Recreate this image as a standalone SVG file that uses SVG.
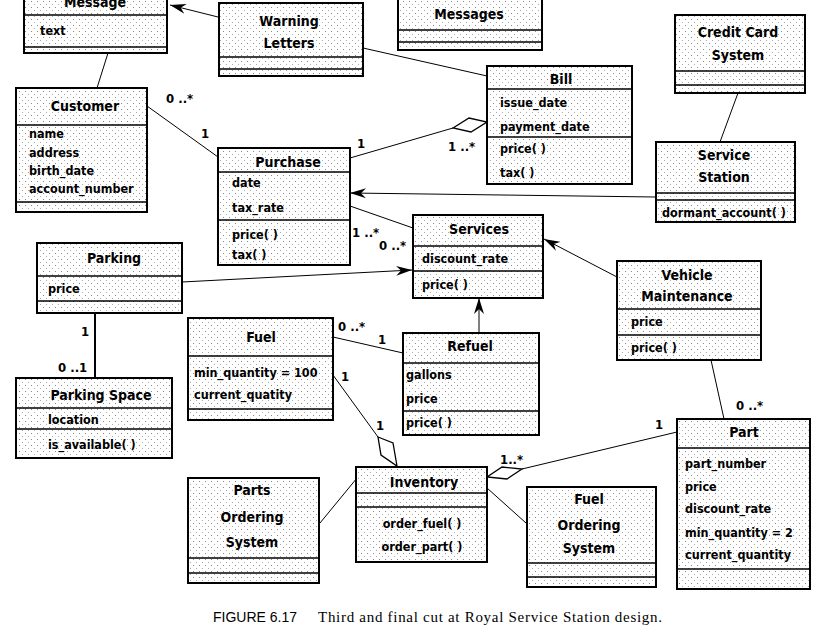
<svg xmlns="http://www.w3.org/2000/svg" width="818" height="636" viewBox="0 0 818 636">
<style>
.box{fill:url(#stip);stroke:#000;stroke-width:2}
.dv{stroke:#000;stroke-width:1.6}
.t{font-family:"DejaVu Sans Condensed","DejaVu Sans",sans-serif;font-stretch:condensed;font-weight:bold;font-size:14px;text-anchor:middle;fill:#000}
.a{font-family:"DejaVu Sans Condensed","DejaVu Sans",sans-serif;font-stretch:condensed;font-weight:bold;font-size:12.5px;fill:#000}
.am{text-anchor:middle}
.l{font-family:"DejaVu Sans Condensed","DejaVu Sans",sans-serif;font-stretch:condensed;font-weight:bold;font-size:13px;fill:#000}
.c{stroke:#000;stroke-width:1;fill:none}
.dm{fill:#fff;stroke:#000;stroke-width:1.3}
.cs{font-family:"Liberation Sans",Arial,sans-serif;font-size:14px;fill:#000}
.cr{font-family:"Liberation Serif","Times New Roman",serif;font-size:15px;fill:#000}
</style>
<defs>
<pattern id="stip" width="6" height="6" patternUnits="userSpaceOnUse">
<rect width="6" height="6" fill="#fff"/>
<rect x="1" y="1" width="1" height="1" fill="#888"/>
<rect x="4" y="4" width="1" height="1" fill="#aaa"/>
</pattern>
<marker id="arr" viewBox="0 0 16 10" refX="16" refY="5" markerWidth="16" markerHeight="10" markerUnits="userSpaceOnUse" orient="auto">
<path d="M0,0 L16,5 L0,10 L5,5 Z" fill="#000"/>
</marker>
</defs>
<rect width="818" height="636" fill="#fff"/>

<g id="connectors">
<line class="c" x1="218" y1="17" x2="170" y2="5" marker-end="url(#arr)"/>
<line class="c" x1="363" y1="48" x2="487" y2="76"/>
<line class="c" x1="108" y1="53" x2="97" y2="88"/>
<line class="c" x1="147" y1="106" x2="218" y2="157"/>
<text class="l" x="166" y="103">0 ..*</text>
<text class="l" x="201" y="138">1</text>
<line class="c" x1="350" y1="158" x2="453" y2="128"/>
<polygon class="dm" points="453,128 469,118 487,122 471,132"/>
<text class="l" x="357" y="148">1</text>
<text class="l" x="448" y="151">1 ..*</text>
<line class="c" x1="655" y1="197" x2="350" y2="193" marker-end="url(#arr)"/>
<line class="c" x1="738" y1="93" x2="720" y2="142"/>
<line class="c" x1="350" y1="206" x2="413" y2="228"/>
<text class="l" x="352" y="237">1 ..*</text>
<text class="l" x="379" y="250">0 ..*</text>
<line class="c" x1="182" y1="282" x2="412" y2="270" marker-end="url(#arr)"/>
<line x1="95" y1="313" x2="95" y2="378" stroke="#000" stroke-width="2"/>
<text class="l" x="81" y="336">1</text>
<text class="l" x="58" y="372">0 ..1</text>
<line class="c" x1="333" y1="337" x2="403" y2="353"/>
<text class="l" x="338" y="331">0 ..*</text>
<text class="l" x="378" y="344">1</text>
<line class="c" x1="333" y1="375" x2="378" y2="437"/>
<polygon class="dm" points="378,437 393,443 397,466 381,455"/>
<text class="l" x="341" y="381">1</text>
<text class="l" x="376" y="430">1</text>
<line class="c" x1="479" y1="333" x2="479" y2="298" marker-end="url(#arr)"/>
<line class="c" x1="617" y1="277" x2="544" y2="239" marker-end="url(#arr)"/>
<line class="c" x1="711" y1="360" x2="724" y2="419"/>
<text class="l" x="736" y="410">0 ..*</text>
<line class="c" x1="677" y1="432" x2="522" y2="469"/>
<polygon class="dm" points="522,469 507,479 487,477 502,467"/>
<text class="l" x="655" y="429">1</text>
<text class="l" x="500" y="464">1..*</text>
<line class="c" x1="320" y1="523" x2="357" y2="478"/>
<line class="c" x1="487" y1="488" x2="526" y2="523"/>
</g>

<g id="message">
<rect class="box" x="24" y="-10" width="143" height="63"/>
<line class="dv" x1="24" y1="15" x2="167" y2="15"/>
<line class="dv" x1="24" y1="47" x2="167" y2="47"/>
<text class="t" x="95" y="7">Message</text>
<text class="a" x="40" y="35">text</text>
</g>

<g id="warning-letters">
<rect class="box" x="219" y="3" width="144" height="73"/>
<line class="dv" x1="219" y1="57" x2="363" y2="57"/>
<line class="dv" x1="219" y1="69" x2="363" y2="69"/>
<text class="t" x="289" y="26">Warning</text>
<text class="t" x="289" y="48">Letters</text>
</g>

<g id="messages">
<rect class="box" x="398" y="-10" width="144" height="60"/>
<line class="dv" x1="398" y1="30" x2="542" y2="30"/>
<line class="dv" x1="398" y1="42" x2="542" y2="42"/>
<text class="t" x="469" y="19">Messages</text>
</g>

<g id="bill">
<rect class="box" x="487" y="66" width="145" height="118"/>
<line class="dv" x1="487" y1="89" x2="632" y2="89"/>
<line class="dv" x1="487" y1="137" x2="632" y2="137"/>
<text class="t" x="561" y="84">Bill</text>
<text class="a" x="500" y="107">issue_date</text>
<text class="a" x="500" y="131">payment_date</text>
<text class="a" x="500" y="153">price( )</text>
<text class="a" x="500" y="177">tax( )</text>
</g>

<g id="credit-card-system">
<rect class="box" x="675" y="15" width="130" height="78"/>
<line class="dv" x1="675" y1="71" x2="805" y2="71"/>
<line class="dv" x1="675" y1="85" x2="805" y2="85"/>
<text class="t" x="738" y="37">Credit Card</text>
<text class="t" x="738" y="60">System</text>
</g>

<g id="service-station">
<rect class="box" x="656" y="142" width="139" height="80"/>
<line class="dv" x1="656" y1="193" x2="795" y2="193"/>
<line class="dv" x1="656" y1="200" x2="795" y2="200"/>
<text class="t" x="724" y="160">Service</text>
<text class="t" x="724" y="182">Station</text>
<text class="a" x="662" y="217">dormant_account( )</text>
</g>

<g id="customer">
<rect class="box" x="16" y="88" width="131" height="124"/>
<line class="dv" x1="16" y1="125" x2="147" y2="125"/>
<line class="dv" x1="16" y1="202" x2="147" y2="202"/>
<text class="t" x="85" y="111">Customer</text>
<text class="a" x="29" y="138">name</text>
<text class="a" x="29" y="157">address</text>
<text class="a" x="29" y="175">birth_date</text>
<text class="a" x="29" y="193">account_number</text>
</g>

<g id="purchase">
<rect class="box" x="218" y="148" width="132" height="117"/>
<line class="dv" x1="218" y1="172" x2="350" y2="172"/>
<line class="dv" x1="218" y1="220" x2="350" y2="220"/>
<text class="t" x="288" y="167">Purchase</text>
<text class="a" x="232" y="187">date</text>
<text class="a" x="232" y="212">tax_rate</text>
<text class="a" x="232" y="239">price( )</text>
<text class="a" x="232" y="259">tax( )</text>
</g>

<g id="services">
<rect class="box" x="413" y="215" width="130" height="83"/>
<line class="dv" x1="413" y1="246" x2="543" y2="246"/>
<line class="dv" x1="413" y1="271" x2="543" y2="271"/>
<text class="t" x="479" y="234">Services</text>
<text class="a" x="422" y="263">discount_rate</text>
<text class="a" x="422" y="289">price( )</text>
</g>

<g id="parking">
<rect class="box" x="37" y="243" width="145" height="70"/>
<line class="dv" x1="37" y1="276" x2="182" y2="276"/>
<line class="dv" x1="37" y1="301" x2="182" y2="301"/>
<text class="t" x="114" y="263">Parking</text>
<text class="a" x="48" y="293">price</text>
</g>

<g id="parking-space">
<rect class="box" x="16" y="378" width="156" height="80"/>
<line class="dv" x1="16" y1="408" x2="172" y2="408"/>
<line class="dv" x1="16" y1="429" x2="172" y2="429"/>
<text class="t" x="101" y="400">Parking Space</text>
<text class="a" x="48" y="424">location</text>
<text class="a" x="48" y="449">is_available( )</text>
</g>

<g id="fuel">
<rect class="box" x="188" y="318" width="145" height="102"/>
<line class="dv" x1="188" y1="356" x2="333" y2="356"/>
<line class="dv" x1="188" y1="409" x2="333" y2="409"/>
<text class="t" x="261" y="342">Fuel</text>
<text class="a" x="194" y="377">min_quantity = 100</text>
<text class="a" x="194" y="399">current_quatity</text>
</g>

<g id="refuel">
<rect class="box" x="403" y="333" width="136" height="102"/>
<line class="dv" x1="403" y1="363" x2="539" y2="363"/>
<line class="dv" x1="403" y1="411" x2="539" y2="411"/>
<text class="t" x="470" y="351">Refuel</text>
<text class="a" x="406" y="379">gallons</text>
<text class="a" x="406" y="403">price</text>
<text class="a" x="406" y="427">price( )</text>
</g>

<g id="vehicle-maintenance">
<rect class="box" x="617" y="261" width="144" height="99"/>
<line class="dv" x1="617" y1="309" x2="761" y2="309"/>
<line class="dv" x1="617" y1="335" x2="761" y2="335"/>
<text class="t" x="687" y="280">Vehicle</text>
<text class="t" x="687" y="301">Maintenance</text>
<text class="a" x="631" y="326">price</text>
<text class="a" x="631" y="352">price( )</text>
</g>

<g id="part">
<rect class="box" x="677" y="419" width="133" height="170"/>
<line class="dv" x1="677" y1="448" x2="810" y2="448"/>
<line class="dv" x1="677" y1="569" x2="810" y2="569"/>
<text class="t" x="744" y="437">Part</text>
<text class="a" x="685" y="468">part_number</text>
<text class="a" x="685" y="491">price</text>
<text class="a" x="685" y="513">discount_rate</text>
<text class="a" x="685" y="537">min_quantity = 2</text>
<text class="a" x="685" y="559">current_quantity</text>
</g>

<g id="inventory">
<rect class="box" x="356" y="467" width="131" height="95"/>
<line class="dv" x1="356" y1="493" x2="487" y2="493"/>
<line class="dv" x1="356" y1="507" x2="487" y2="507"/>
<text class="t" x="424" y="487">Inventory</text>
<text class="a am" x="422" y="528">order_fuel( )</text>
<text class="a am" x="422" y="551">order_part( )</text>
</g>

<g id="parts-ordering-system">
<rect class="box" x="188" y="478" width="131" height="105"/>
<line class="dv" x1="188" y1="558" x2="319" y2="558"/>
<line class="dv" x1="188" y1="573" x2="319" y2="573"/>
<text class="t" x="252" y="495">Parts</text>
<text class="t" x="252" y="522">Ordering</text>
<text class="t" x="252" y="547">System</text>
</g>

<g id="fuel-ordering-system">
<rect class="box" x="527" y="487" width="129" height="100"/>
<line class="dv" x1="527" y1="563" x2="656" y2="563"/>
<line class="dv" x1="527" y1="577" x2="656" y2="577"/>
<text class="t" x="589" y="504">Fuel</text>
<text class="t" x="589" y="530">Ordering</text>
<text class="t" x="589" y="553">System</text>
</g>

<g id="caption">
<text class="cs" x="213" y="622">FIGURE 6.17</text>
<text class="cr" x="318" y="622" textLength="344" lengthAdjust="spacing">Third and final cut at Royal Service Station design.</text>
</g>
</svg>
